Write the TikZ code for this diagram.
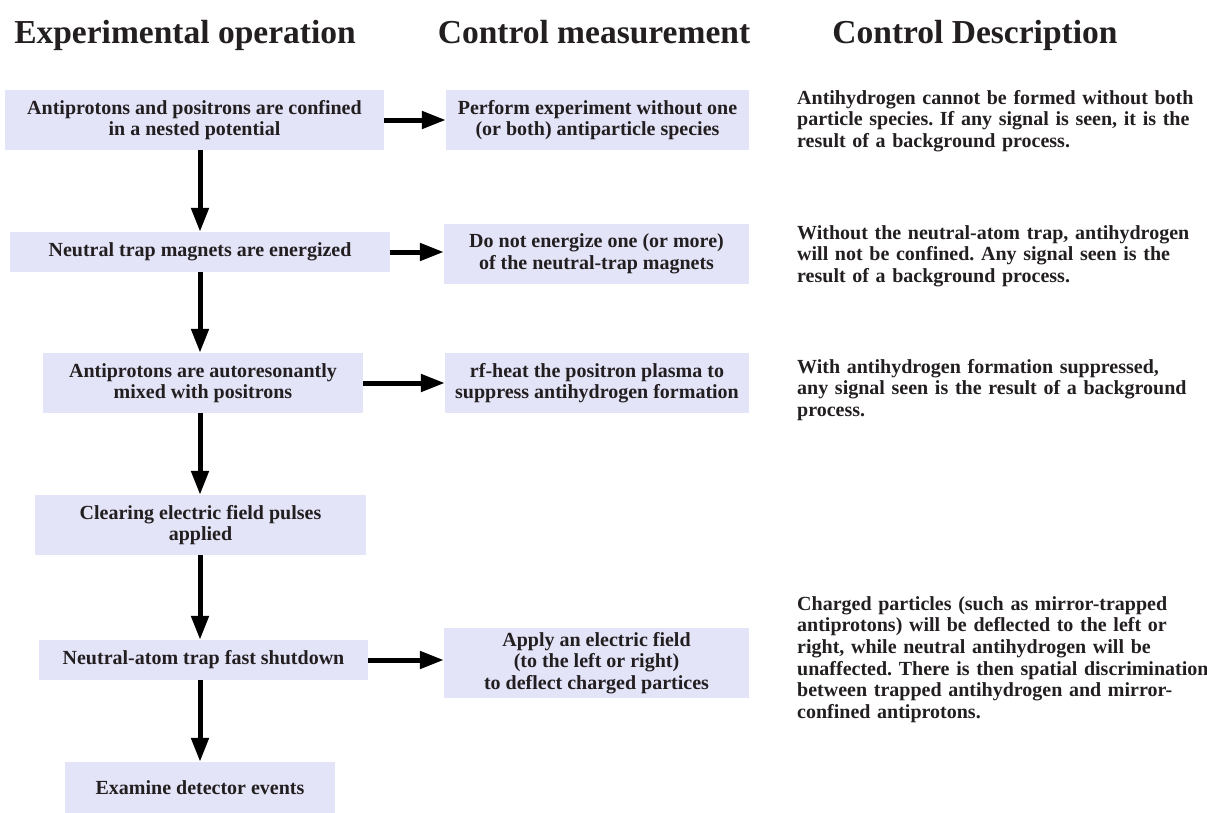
\documentclass[tikz,border=0pt]{standalone}
\usepackage{fontspec}
\setmainfont{Liberation Serif}
\frenchspacing
\usetikzlibrary{arrows.meta}
\definecolor{boxfill}{HTML}{E4E4F9}
\definecolor{txt}{HTML}{231F20}
\tikzset{
  stepbox/.style={fill=boxfill, draw=none, inner sep=0pt, align=center,
    text=txt, font=\fontsize{20}{21.5}\selectfont\bfseries},
  desc/.style={anchor=base west, inner sep=0pt, align=left, text width=440pt,
    text=txt, font=\fontsize{20}{21.7}\selectfont\bfseries},
  head/.style={anchor=base, inner sep=0pt, text=txt, font=\fontsize{33.5}{36}\selectfont\bfseries},
  flow/.style={line width=5pt, -{Triangle[length=24pt,width=17pt]}},
}
\begin{document}
\begin{tikzpicture}[x=1pt,y=-1pt]
\useasboundingbox (0,0) rectangle (1207,812);
% headers
\node[head] (h1) at (185,43) {Experimental operation};
\node[head] (h2) at (594,43) {Control measurement};
\node[head] (h3) at (975,43) {Control Description};
% experimental column
\node[stepbox, minimum width=379pt, minimum height=60pt] (b1) at (194.5,120) {Antiprotons and positrons are confined\\in a nested potential};
\node[stepbox, minimum width=380pt, minimum height=40pt] (b2) at (200,252) {Neutral trap magnets are energized};
\node[stepbox, minimum width=320pt, minimum height=60pt] (b3) at (203,383) {Antiprotons are autoresonantly\\mixed with positrons};
\node[stepbox, minimum width=331pt, minimum height=60pt] (b4) at (200.5,525) {Clearing electric field pulses\\applied};
\node[stepbox, minimum width=329pt, minimum height=40pt] (b5) at (203.5,660) {Neutral-atom trap fast shutdown};
\node[stepbox, minimum width=270pt, minimum height=52pt] (b6) at (200,788) {Examine detector events};
% control column
\node[stepbox, minimum width=303pt, minimum height=60pt] (c1) at (597.5,120) {Perform experiment without one\\(or both) antiparticle species};
\node[stepbox, minimum width=305pt, minimum height=60pt] (c2) at (596.5,254) {Do not energize one (or more)\\of the neutral-trap magnets};
\node[stepbox, minimum width=304pt, minimum height=60pt] (c3) at (597,383) {rf-heat the positron plasma to\\suppress antihydrogen formation};
\node[stepbox, minimum width=305pt, minimum height=70pt] (c4) at (596.5,663) {Apply an electric field\\(to the left or right)\\to deflect charged partices};
% descriptions
\node[desc] (d1) at (797,104) {Antihydrogen cannot be formed without both\\particle species. If any signal is seen, it is the\\result of a background process.};
\node[desc] (d2) at (797,239) {Without the neutral-atom trap, antihydrogen\\will not be confined. Any signal seen is the\\result of a background process.};
\node[desc] (d3) at (797,373) {With antihydrogen formation suppressed,\\any signal seen is the result of a background\\process.};
\node[desc] (d4) at (797,610) {Charged particles (such as mirror-trapped\\antiprotons) will be deflected to the left or\\right, while neutral antihydrogen will be\\unaffected. There is then spatial discrimination\\between trapped antihydrogen and mirror-\\confined antiprotons.};
% arrows
\coordinate (ax) at (200,0);
\draw[flow] (b1.south -| ax) -- (b2.north -| ax);
\draw[flow] (b2.south -| ax) -- (b3.north -| ax);
\draw[flow] (b3.south -| ax) -- (b4.north -| ax);
\draw[flow] (b4.south -| ax) -- (b5.north -| ax);
\draw[flow] (b5.south -| ax) -- (b6.north -| ax);
\draw[flow] (b1.east) -- (c1.west |- b1.east);
\draw[flow] (b2.east) -- (c2.west |- b2.east);
\draw[flow] (b3.east) -- (c3.west |- b3.east);
\draw[flow] (b5.east) -- (c4.west |- b5.east);
\end{tikzpicture}
\end{document}
